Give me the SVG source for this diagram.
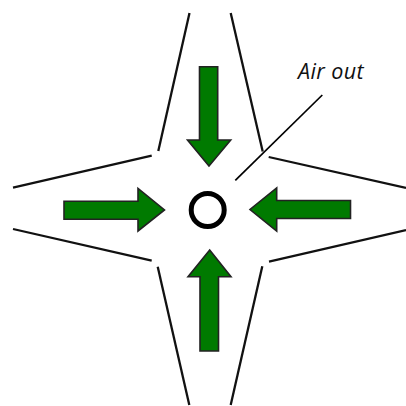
<svg xmlns="http://www.w3.org/2000/svg" width="406" height="406" viewBox="0 0 406 406">
<style>
.wall{fill:none;stroke:#111;stroke-width:2.3;stroke-linecap:butt}
.arrow{fill:#007a00;stroke:#222;stroke-width:1.6;stroke-linejoin:miter}
.leader{fill:none;stroke:#000;stroke-width:1.7}
.label{font-family:"Open Sans","Noto Sans",sans-serif;font-style:italic;font-size:21.5px;letter-spacing:.4px;fill:#111}
</style>
<rect width="406" height="406" fill="#fff"/>
<g id="walls">
<path class="wall" d="M189.5 13L158.3 151"/>
<path class="wall" d="M230.7 13L262.7 151.5"/>
<path class="wall" d="M268.7 157L406 188"/>
<path class="wall" d="M13 187.7L151.7 155.7"/>
<path class="wall" d="M13 229L151.7 260.7"/>
<path class="wall" d="M157.7 266.7L189.3 405"/>
<path class="wall" d="M262.3 266.3L230.7 405"/>
<path class="wall" d="M269 261.7L406 230"/>
</g>
<g id="connectors">
<path class="leader" d="M322.3 95L235.3 180.3"/>
</g>
<g id="arrow-top"><path class="arrow" d="M199.5 66.7H217.7V140H230.7L209 166L187.5 140H199.5Z"/></g>
<g id="arrow-left"><path class="arrow" d="M64 201.2H138V188.5L164.5 210L138 231V219.2H64Z"/></g>
<g id="arrow-right"><path class="arrow" d="M350.5 200.5H276.7V188L250 209.5L276.7 231V218.5H350.5Z"/></g>
<g id="arrow-bottom"><path class="arrow" d="M200 351H218.5V276.7H231L209.7 250L188 276.7H200Z"/></g>
<g id="outlet"><circle cx="207.7" cy="210" r="16.5" fill="#fff" stroke="#000" stroke-width="5"/></g>
<g id="label-air-out"><text class="label" x="298" y="79">Air out</text></g>
</svg>
